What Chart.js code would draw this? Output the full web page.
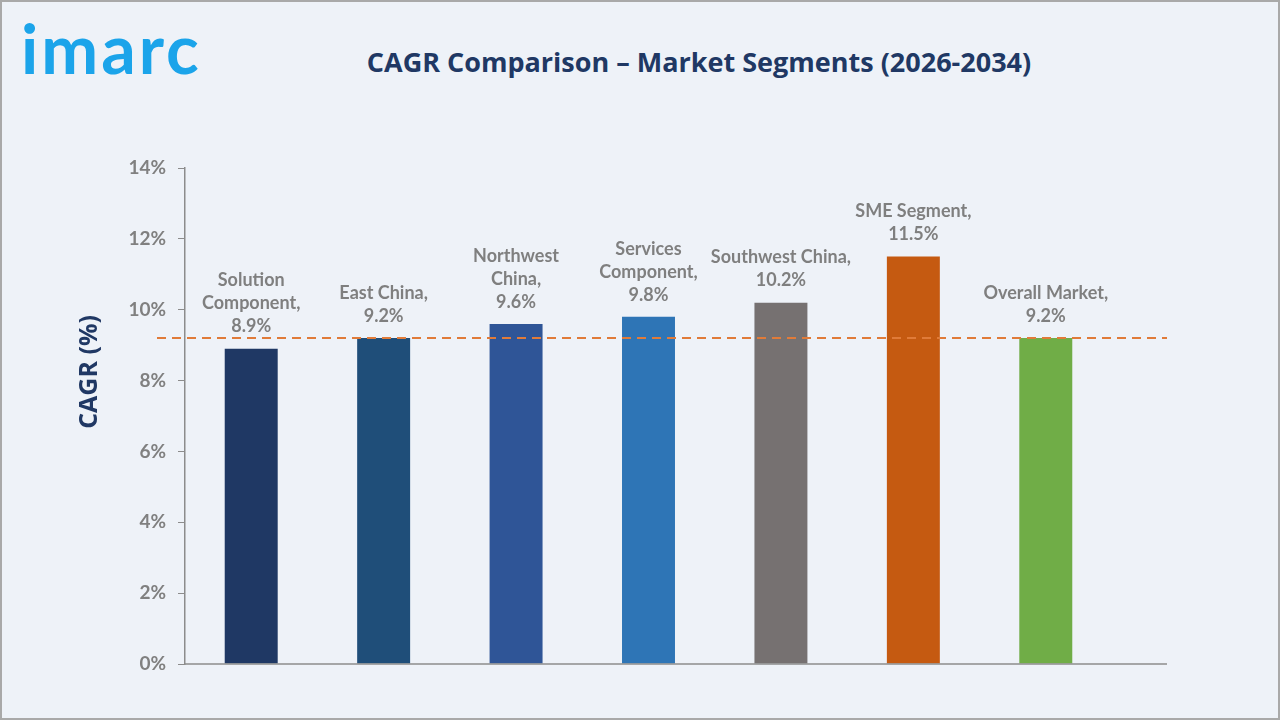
<!DOCTYPE html>
<html>
<head>
<meta charset="utf-8">
<script src="https://cdn.jsdelivr.net/npm/chart.js@4.4.1/dist/chart.umd.min.js"></script>
<style>
  html, body { margin: 0; padding: 0; }
  body { width: 1280px; height: 720px; background: #eef2f8; overflow: hidden; }
  .frame { position: relative; width: 1280px; height: 720px; box-sizing: border-box; border: 2px solid #a9a9a9; }
  .logo { position: absolute; left: 19px; top: 12px; line-height: 1; font-family: "Lato", sans-serif; font-weight: 700; font-size: 68px; color: #1ba4ea; letter-spacing: 3px; }
  .title { position: absolute; left: 0; width: 1394px; text-align: center; top: 41px; font-family: "Open Sans", sans-serif; font-weight: 700; font-size: 27px; color: #203864; white-space: nowrap; }
  canvas { position: absolute; left: 0; top: 0; }
</style>
</head>
<body>
<div class="frame">
  <div class="logo">imarc</div>
  <div class="title">CAGR Comparison – Market Segments (2026-2034)</div>
  <canvas id="cagrChart" width="1280" height="720"></canvas>
</div>
<script>
const categories = ["Solution Component", "East China", "Northwest China", "Services Component", "Southwest China", "SME Segment", "Overall Market"];
const labelLines = [
  ["Solution", "Component,"],
  ["East China,"],
  ["Northwest", "China,"],
  ["Services", "Component,"],
  ["Southwest China,"],
  ["SME Segment,"],
  ["Overall Market,"]
];
const cagrValues = [8.9, 9.2, 9.6, 9.8, 10.2, 11.5, 9.2];
const barColors = ["#1f3864", "#1f4e79", "#2f5597", "#2e75b6", "#767171", "#c55a11", "#70ad47"];
const referenceValue = cagrValues[6]; // overall market line

const labelsPlugin = {
  id: "barLabels",
  afterDatasetsDraw(chart) {
    const ctx = chart.ctx;
    const area = chart.chartArea;
    const yScale = chart.scales.y;
    const extra = 55; // axis runs a bit past the last category

    // baseline
    ctx.save();
    ctx.strokeStyle = "#8c8c8c";
    ctx.lineWidth = 1.5;
    ctx.beginPath();
    ctx.moveTo(area.left, yScale.getPixelForValue(0));
    ctx.lineTo(area.right + extra, yScale.getPixelForValue(0));
    ctx.stroke();

    // dashed reference line at overall market CAGR
    const yRef = yScale.getPixelForValue(referenceValue);
    ctx.strokeStyle = "#e07b39";
    ctx.lineWidth = 2;
    ctx.setLineDash([9, 6]);
    ctx.beginPath();
    ctx.moveTo(area.left - 28, yRef);
    ctx.lineTo(area.right + extra, yRef);
    ctx.stroke();
    ctx.restore();

    // axis title
    ctx.save();
    ctx.translate(88, 370);
    ctx.rotate(-Math.PI / 2);
    ctx.font = "700 25px 'Open Sans', sans-serif";
    ctx.fillStyle = "#203864";
    ctx.textAlign = "center";
    ctx.textBaseline = "middle";
    ctx.fillText("CAGR (%)", 0, 0);
    ctx.restore();

    // value labels above bars
    const meta = chart.getDatasetMeta(0);
    ctx.save();
    ctx.font = "700 18px 'Lato', sans-serif";
    ctx.fillStyle = "#7f7f7f";
    ctx.textAlign = "center";
    ctx.textBaseline = "middle";
    meta.data.forEach((bar, i) => {
      const lines = labelLines[i].concat([cagrValues[i].toFixed(1) + "%"]);
      const lineH = 23;
      let y = bar.y - 22;
      for (let k = lines.length - 1; k >= 0; k--) {
        ctx.fillText(lines[k], bar.x, y);
        y -= lineH;
      }
    });
    ctx.restore();
  }
};

new Chart(document.getElementById("cagrChart"), {
  type: "bar",
  data: {
    labels: categories,
    datasets: [{
      data: cagrValues,
      backgroundColor: barColors,
      categoryPercentage: 1,
      barPercentage: 0.4
    }]
  },
  options: {
    responsive: false,
    animation: false,
    layout: {
      padding: { left: 75, top: 166, right: 170, bottom: 58 }
    },
    plugins: {
      legend: { display: false },
      tooltip: { enabled: false }
    },
    scales: {
      x: {
        ticks: { display: false },
        grid: { display: false, drawTicks: false },
        border: { display: false },
        afterFit: scale => { scale.height = 0; }
      },
      y: {
        min: 0,
        max: 14,
        ticks: {
          stepSize: 2,
          padding: 12,
          color: "#808080",
          font: { family: "'Lato', sans-serif", size: 19, weight: "700" },
          callback: v => v + "%"
        },
        grid: { drawOnChartArea: false, drawTicks: true, tickLength: 7, color: "#8c8c8c" },
        border: { display: true, color: "#8c8c8c", width: 1.5 },
        afterFit: scale => { scale.width = 108; }
      }
    }
  },
  plugins: [labelsPlugin]
});
</script>
</body>
</html>
